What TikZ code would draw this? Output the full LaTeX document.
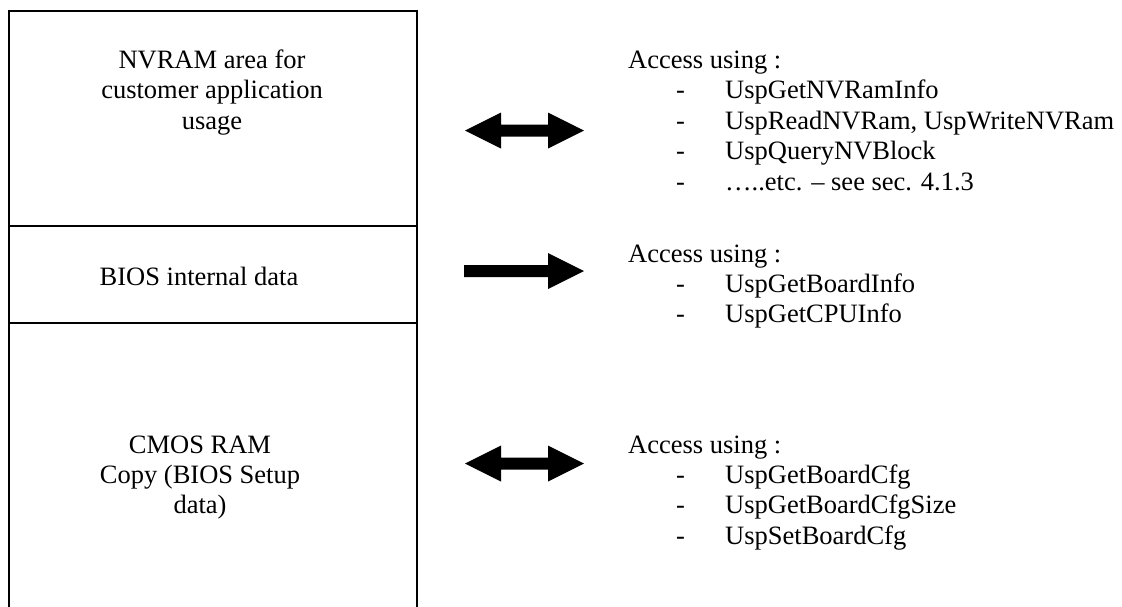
\documentclass[tikz,border=0pt]{standalone}
\usepackage{fontspec}
\setmainfont{Liberation Serif}
\begin{document}
\begin{tikzpicture}[x=1pt,y=-1pt]
\tikzset{
  boxline/.style={line width=2pt, draw=black},
  txt/.style={font=\fontsize{26.5}{30.5}\selectfont, inner sep=0pt, anchor=base},
  ltxt/.style={txt, anchor=base west},
  blockarrow/.style={fill=black},
}
\useasboundingbox (0,0) rectangle (1122,606);

% memory map box (open at the bottom)
\coordinate (tl) at (8.5,11);
\coordinate (tr) at (416.5,11);
\coordinate (bl) at (8.5,612);
\coordinate (br) at (416.5,612);
\coordinate (d1l) at (8.5,226);
\coordinate (d1r) at (416.5,226);
\coordinate (d2l) at (8.5,322.5);
\coordinate (d2r) at (416.5,322.5);
\draw[boxline] (bl) -- (tl) -- (tr) -- (br);
\draw[boxline] (d1l) -- (d1r);
\draw[boxline] (d2l) -- (d2r);

% section labels
\node[txt] (nv1) at (212,68) {NVRAM area for};
\node[txt] (nv2) at (212,98.5) {customer application};
\node[txt] (nv3) at (212,129) {usage};
\node[txt] (bios) at (199,285) {BIOS internal data};
\node[txt] (cm1) at (200,453) {CMOS RAM};
\node[txt] (cm2) at (200,483) {Copy (BIOS Setup};
\node[txt] (cm3) at (200,513.5) {data)};

% block arrows
\coordinate (A1) at (465,130.5);
\fill[blockarrow] (A1) -- ++(36,-18) -- ++(0,12) -- ++(47,0) -- ++(0,-12) -- ++(36,18)
  -- ++(-36,18) -- ++(0,-12) -- ++(-47,0) -- ++(0,12) -- cycle;
\coordinate (A2) at (464,271);
\fill[blockarrow] (A2) ++(0,-6) -- ++(84,0) -- ++(0,-12) -- ++(36,18) -- ++(-36,18)
  -- ++(0,-12) -- ++(-84,0) -- cycle;
\coordinate (A3) at (465,463.5);
\fill[blockarrow] (A3) -- ++(36,-18) -- ++(0,12) -- ++(47,0) -- ++(0,-12) -- ++(36,18)
  -- ++(-36,18) -- ++(0,-12) -- ++(-47,0) -- ++(0,12) -- cycle;

% access lists
\node[ltxt] (h1) at (628,68) {Access using :};
\node[ltxt] (h1d1) at (676,98.5) {-};
\node[ltxt] (h1i1) at (725,98.5) {UspGetNVRamInfo};
\node[ltxt] (h1d2) at (676,129) {-};
\node[ltxt] (h1i2) at (725,129) {UspReadNVRam, UspWriteNVRam};
\node[ltxt] (h1d3) at (676,159.5) {-};
\node[ltxt] (h1i3) at (725,159.5) {UspQueryNVBlock};
\node[ltxt] (h1d4) at (676,190) {-};
\node[ltxt] (h1i4) at (725,190) {…..etc. – see sec. 4.1.3};

\node[ltxt] (h2) at (628,262) {Access using :};
\node[ltxt] (h2d1) at (676,292.5) {-};
\node[ltxt] (h2i1) at (725,292.5) {UspGetBoardInfo};
\node[ltxt] (h2d2) at (676,322) {-};
\node[ltxt] (h2i2) at (725,322) {UspGetCPUInfo};

\node[ltxt] (h3) at (628,453) {Access using :};
\node[ltxt] (h3d1) at (676,483) {-};
\node[ltxt] (h3i1) at (725,483) {UspGetBoardCfg};
\node[ltxt] (h3d2) at (676,513.5) {-};
\node[ltxt] (h3i2) at (725,513.5) {UspGetBoardCfgSize};
\node[ltxt] (h3d3) at (676,544) {-};
\node[ltxt] (h3i3) at (725,544) {UspSetBoardCfg};
\end{tikzpicture}
\end{document}
